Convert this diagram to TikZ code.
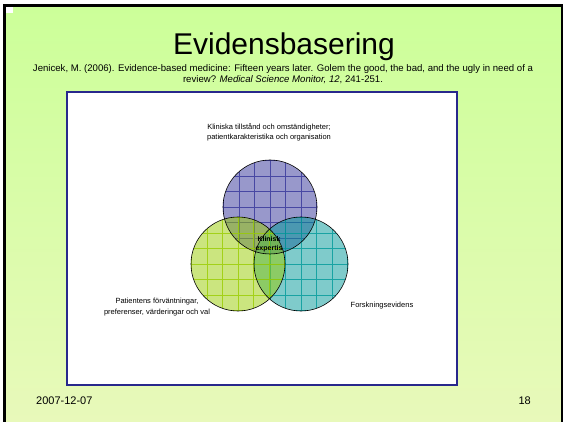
\documentclass[tikz,border=0pt]{standalone}
\usepackage{fontspec}
\setmainfont{Liberation Sans}
\usepackage{tikz}

\definecolor{slidetop}{RGB}{204,255,153}
\definecolor{slidebot}{RGB}{232,249,186}
\definecolor{boxblue}{RGB}{40,40,140}
\definecolor{vennblue}{RGB}{51,51,153}
\definecolor{venngreen}{RGB}{153,204,0}
\definecolor{vennteal}{RGB}{0,153,153}

\tikzset{
	lbl/.style={font=\fontsize{7.5}{10.5}\selectfont, align=center, inner sep=0pt},
	vennset/.style={fill opacity=.5, draw opacity=.8}
}

\begin{document}
\begin{tikzpicture}[x=1pt, y=-1pt]
	\useasboundingbox (0,0) rectangle (565,422);

	\shade[top color=slidetop, bottom color=slidebot] (5,6) rectangle (562,422);
	\draw[line width=2.5pt] (4.5,422) -- (4.5,5.5) -- (562,5.5) -- (562,422);
	\fill[white] (6,7) rectangle (13,13);

	\node[anchor=base, font=\fontsize{30}{36}\selectfont] (title) at (284,55) {Evidensbasering};
	\node[anchor=base, align=center, font=\fontsize{9.6}{11.2}\selectfont, inner sep=0pt] (ref) at (283,83)
		{Jenicek, M. (2006). Evidence-based medicine: Fifteen years later. Golem the good, the bad, and the ugly in need of a\\
		review? \textit{Medical Science Monitor, 12}, 241-251.};

	\draw[boxblue, line width=1.5pt, fill=white] (67,92) rectangle (457,385);

	\coordinate (klin) at (270,207);
	\coordinate (forsk) at (301,264);
	\coordinate (pat) at (238,264);

	\foreach \c/\col in {klin/vennblue, forsk/vennteal, pat/venngreen} {
		\begin{scope}[vennset]
			\clip (\c) circle (47pt);
			\fill[\col] (\c) circle (47pt);
			\draw[\col, shift={(\c)}, step=15.5pt] (-50,-50) grid (50,50);
		\end{scope}
	}
	\foreach \c in {klin, forsk, pat}
		\draw[line width=.6pt] (\c) circle (47pt);

	\node[lbl] (klintxt) at (269,132.5) {Kliniska tillstånd och omständigheter;\\patientkarakteristika och organisation};
	\node[lbl] (pattxt) at (157,307) {Patientens förväntningar,\\preferenser, värderingar och val};
	\node[lbl] (forsktxt) at (382,306) {Forskningsevidens};
	\node[lbl, font=\fontsize{7}{8.5}\selectfont\bfseries] (expert) at (269,244) {Klinisk\\expertis};

	\node[anchor=base west, font=\fontsize{11}{13}\selectfont, inner sep=0pt] (date) at (36,404) {2007-12-07};
	\node[anchor=base east, font=\fontsize{11}{13}\selectfont, inner sep=0pt] (page) at (531,404) {18};
\end{tikzpicture}
\end{document}
